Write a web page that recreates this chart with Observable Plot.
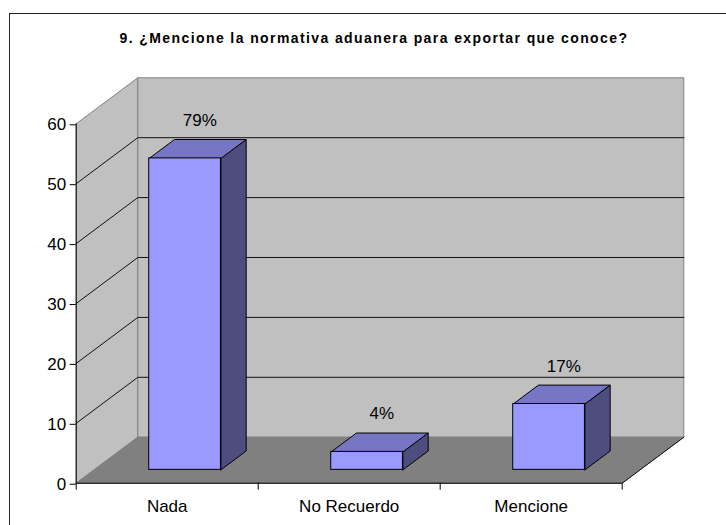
<!DOCTYPE html>
<html>
<head>
<meta charset="utf-8">
<script src="https://cdn.jsdelivr.net/npm/d3@7"></script>
<script src="https://cdn.jsdelivr.net/npm/@observablehq/plot@0.6"></script>
<style>
  html, body { margin: 0; padding: 0; background: #fff; }
  #wrap { position: relative; width: 726px; height: 525px; overflow: hidden; font-family: "Liberation Sans", Arial, sans-serif; }
  #border { position: absolute; left: 9px; top: 13px; width: 900px; height: 700px; border: 1px solid #222; box-sizing: border-box; pointer-events: none; }
  #title { position: absolute; left: 1px; top: 31px; width: 746px; text-align: center; font-weight: bold; font-size: 14px; line-height: 14px; letter-spacing: 1.4px; color: #000; }
  #chart { position: absolute; left: 0; top: 0; }
</style>
</head>
<body>
<div id="wrap">
  <div id="chart"></div>
  <div id="border"></div>
  <div id="title">9. ¿Mencione la normativa aduanera para exportar que conoce?</div>
</div>
<script>
// ---- data ----
const categories = ["Nada", "No Recuerdo", "Mencione"];
const counts = [52, 3, 11];
const percentLabels = ["79%", "4%", "17%"];
const yTicks = [0, 10, 20, 30, 40, 50, 60];
const gridValues = [10, 20, 30, 40, 50];
const categoryTicks = [0, 1, 2, 3];

// ---- 3D geometry (depth expressed in data units) ----
const DX = 0.3385, DY = 7.68;      // full depth of the floor / walls
const HW = 0.197;                  // half width of a bar (category units)
const D0 = 0.29, D1 = 0.70;        // bar front / back depth fractions
const XMAX = categories.length, YMAX = yTicks[yTicks.length - 1];
const P = (x, y, d) => ({x: x + d * DX, y: y + d * DY});
const poly = (id, pts) => pts.concat([pts[0]]).map(p => ({...p, id}));

const leftWall = poly("lw", [P(0, 0, 0), P(0, YMAX, 0), P(0, YMAX, 1), P(0, 0, 1)]);
const backWall = poly("bw", [P(0, 0, 1), P(XMAX, 0, 1), P(XMAX, YMAX, 1), P(0, YMAX, 1)]);
const floor = poly("fl", [P(0, 0, 0), P(XMAX, 0, 0), P(XMAX, 0, 1), P(0, 0, 1)]);
const grid = gridValues.flatMap(v => [P(0, v, 0), P(0, v, 1), P(XMAX, v, 1)].map(p => ({...p, id: v})));
const floorEdge = [P(XMAX, 0, 0), P(XMAX, 0, 1)];

const bars = categories.map((c, i) => ({c, i, v: counts[i], xl: i + 0.5 - HW, xr: i + 0.5 + HW}));
const fronts = bars.map(b => ({x1: b.xl + D0 * DX, x2: b.xr + D0 * DX, y1: D0 * DY, y2: b.v + D0 * DY}));
const tops = bars.flatMap(b => poly(b.c, [P(b.xl, b.v, D0), P(b.xr, b.v, D0), P(b.xr, b.v, D1), P(b.xl, b.v, D1)]));
const sides = bars.flatMap(b => poly(b.c, [P(b.xr, 0, D0), P(b.xr, b.v, D0), P(b.xr, b.v, D1), P(b.xr, 0, D1)]));
const labels = bars.map(b => ({x: b.i + 0.5 + 0.53 * DX, y: b.v + D1 * DY, label: percentLabels[b.i]}));

const chart = Plot.plot({
  width: 726,
  height: 525,
  marginLeft: 75.7,
  marginRight: 104.3,
  marginTop: 123.3,
  marginBottom: 42.3,
  x: {domain: [0, XMAX], axis: null},
  y: {domain: [0, YMAX], axis: null},
  style: {background: "transparent", fontFamily: "'Liberation Sans', Arial, sans-serif", fontSize: "17px", color: "#000", overflow: "visible"},
  marks: [
    Plot.line(leftWall, {x: "x", y: "y", z: "id", fill: "#C0C0C0", stroke: "#808080", strokeWidth: 1}),
    Plot.line(backWall, {x: "x", y: "y", z: "id", fill: "#C0C0C0", stroke: "#808080", strokeWidth: 1}),
    Plot.line(floor, {x: "x", y: "y", z: "id", fill: "#808080", stroke: "#808080", strokeWidth: 1}),
    Plot.line(grid, {x: "x", y: "y", z: "id", stroke: "#111", strokeWidth: 1}),
    Plot.line(floorEdge, {x: "x", y: "y", stroke: "#111", strokeWidth: 1}),
    Plot.ruleX([0], {y1: 0, y2: YMAX, stroke: "#000"}),
    Plot.ruleY([0], {x1: 0, x2: XMAX, stroke: "#000"}),
    Plot.axisY(yTicks, {anchor: "left", tickSize: 6, tickPadding: 4, fontSize: 17, dy: 1, stroke: "#000", fill: "#000"}),
    Plot.axisX(categoryTicks, {anchor: "bottom", tickSize: 7, tickFormat: () => "", stroke: "#000"}),
    Plot.axisX(categoryTicks.slice(0, -1).map(t => t + 0.5), {anchor: "bottom", tickSize: 0, tickPadding: 17, fontSize: 17, fill: "#000", tickFormat: d => categories[Math.floor(d)]}),
    Plot.line(sides, {x: "x", y: "y", z: "id", fill: "#4D4D80", stroke: "#000", strokeWidth: 1}),
    Plot.line(tops, {x: "x", y: "y", z: "id", fill: "#7676C4", stroke: "#000", strokeWidth: 1}),
    Plot.rect(fronts, {x1: "x1", x2: "x2", y1: "y1", y2: "y2", fill: "#9999FF", stroke: "#000", strokeWidth: 1}),
    Plot.text(labels, {x: "x", y: "y", text: "label", dy: -19, fontSize: 17, fill: "#000"})
  ]
});
document.getElementById("chart").appendChild(chart);
</script>
</body>
</html>
